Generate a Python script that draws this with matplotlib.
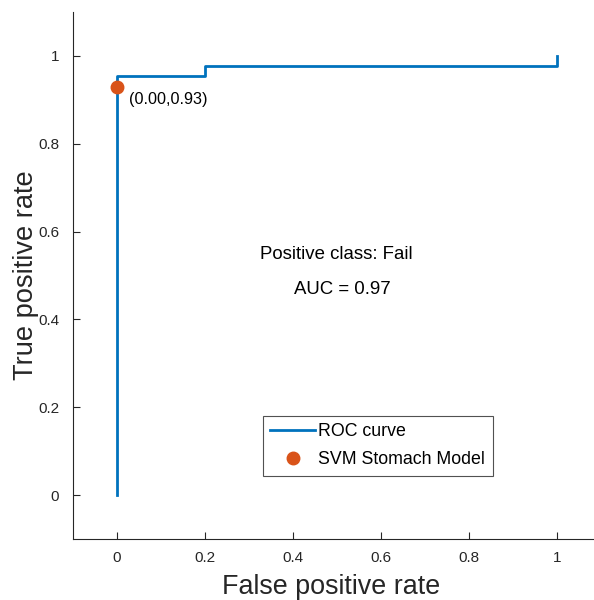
import matplotlib
matplotlib.use('Agg')
import matplotlib.pyplot as plt

plt.rcParams['font.family'] = ['Liberation Sans', 'DejaVu Sans']

# ROC curve points
fpr = [0, 0, 0.2, 0.2, 1, 1]
tpr = [0, 41/43, 41/43, 42/43, 42/43, 1]

# operating point of the model
op_x = [0.0]
op_y = [40/43]

auc = 0.97
pos_class = 'Fail'

fig = plt.figure(figsize=(5.94, 6.0), dpi=100)
ax = fig.add_axes([73/594, 61/600, (601-73)/594, (539-12)/600])

ax.plot(fpr, tpr, color='#0072BD', lw=2, label='ROC curve')
ax.plot(op_x, op_y, 'o', color='#D95319', ms=9, label='SVM Stomach Model')
ax.text(op_x[0] + 0.027, op_y[0] - 0.03, f'({op_x[0]:.2f},{op_y[0]:.2f})',
        fontsize=11.7, va='center', ha='left', color='#000000')

ax.text(0.498, 0.548, f'Positive class: {pos_class}', fontsize=13.4, ha='center', va='center')
ax.text(0.511, 0.468, f'AUC = {auc:.2f}', fontsize=13.4, ha='center', va='center')

ax.set_xlim(-0.1, 1.1)
ax.set_ylim(-0.1, 1.1)
ax.set_xticks([0, 0.2, 0.4, 0.6, 0.8, 1])
ax.set_xticklabels(['0', '0.2', '0.4', '0.6', '0.8', '1'])
ax.set_yticks([0, 0.2, 0.4, 0.6, 0.8, 1])
ax.set_yticklabels(['0', '0.2', '0.4', '0.6', '0.8', '1'])
ax.tick_params(direction='in', length=5, width=0.8, colors='#262626', labelsize=11)
ax.tick_params(axis='x', pad=9)
ax.tick_params(axis='y', pad=10)
for s in ['top', 'right']:
    ax.spines[s].set_visible(False)
for s in ['left', 'bottom']:
    ax.spines[s].set_color('#262626')
    ax.spines[s].set_linewidth(0.8)

ax.set_xlabel('False positive rate', fontsize=19.4, color='#262626')
ax.set_ylabel('True positive rate', fontsize=19.6, color='#262626')
ax.xaxis.set_label_coords((331 - 73) / 528, -(594 - 539) / 527)
ax.xaxis.label.set_va('baseline')
ax.yaxis.set_label_coords(-(73 - 39) / 528, 0.5)

leg = ax.legend(loc='upper left', bbox_to_anchor=((263-73)/528, (539-416)/527),
                fontsize=12.8, frameon=True, fancybox=False, handlelength=2.5,
                borderpad=0.42, labelspacing=0.6, handletextpad=0.2, borderaxespad=0)
leg.get_frame().set_edgecolor('#262626')
leg.get_frame().set_linewidth(0.8)

fig.savefig('out.png', dpi=100)
